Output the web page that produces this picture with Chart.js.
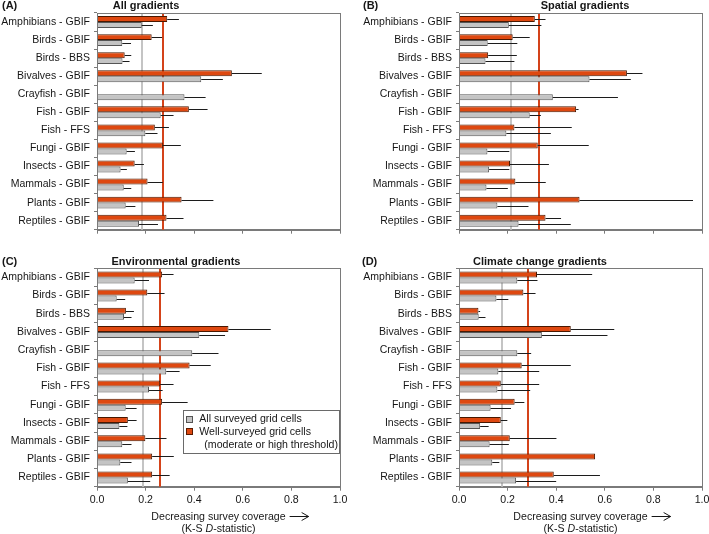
<!DOCTYPE html>
<html><head><meta charset="utf-8">
<script src="https://cdn.jsdelivr.net/npm/chart.js@4.4.0/dist/chart.umd.min.js"></script>
<style>
html,body{margin:0;padding:0;background:#fff;}
#wrap{position:relative;width:709px;height:534px;overflow:hidden;background:#fff;}
canvas{position:absolute;}
</style></head><body>
<div id="wrap">
<canvas id="cA" width="355" height="240" style="left:0;top:0"></canvas>
<canvas id="cB" width="364" height="240" style="left:355px;top:0"></canvas>
<canvas id="cC" width="355" height="294" style="left:0;top:240px"></canvas>
<canvas id="cD" width="364" height="294" style="left:355px;top:240px"></canvas>
</div>
<script>
const categories = ['Amphibians - GBIF','Birds - GBIF','Birds - BBS','Bivalves - GBIF','Crayfish - GBIF','Fish - GBIF','Fish - FFS','Fungi - GBIF','Insects - GBIF','Mammals - GBIF','Plants - GBIF','Reptiles - GBIF'];
const panelLetters = ['(A)','(B)','(C)','(D)'];
const panelTitles = ['All gradients','Spatial gradients','Environmental gradients','Climate change gradients'];
const seriesNames = ['Well-surveyed grid cells','All surveyed grid cells'];
const xTickValues = [0, 0.2, 0.4, 0.6, 0.8, 1.0];

// Panel A - All gradients
const wellA    = [0.289,0.225,0.114,0.555,null,0.378,0.238,0.271,0.155,0.208,0.348,0.286];
const wellErrA = [0.337,0.268,0.141,0.678,null,0.455,0.296,0.345,0.193,0.271,0.479,0.356];
const allA     = [0.184,0.104,0.105,0.429,0.360,0.262,0.199,0.122,0.097,0.110,0.118,0.173];
const allErrA  = [0.230,0.140,0.134,0.518,0.447,0.315,0.249,0.156,0.123,0.141,0.158,0.251];
// Panel B - Spatial gradients
const wellB    = [0.312,0.221,0.120,0.691,null,0.482,0.228,0.324,0.210,0.232,0.496,0.356];
const wellErrB = [0.356,0.291,0.238,0.755,null,0.492,0.464,0.534,0.370,0.357,0.963,0.420];
const allB     = [0.205,0.118,0.109,0.537,0.386,0.291,0.195,0.117,0.124,0.113,0.158,0.245];
const allErrB  = [0.339,0.240,0.228,0.707,0.654,0.337,0.378,0.207,0.207,0.201,0.286,0.460];
// Panel C - Environmental gradients
const wellC    = [0.268,0.207,0.119,0.541,null,0.381,0.260,0.268,0.127,0.199,0.227,0.227];
const wellErrC = [0.315,0.278,0.152,0.715,null,0.468,0.315,0.373,0.163,0.286,0.316,0.299];
const allC     = [0.155,0.081,0.111,0.421,0.392,0.285,0.214,0.118,0.092,0.104,0.096,0.127];
const allErrC  = [0.214,0.116,0.142,0.527,0.500,0.340,0.270,0.163,0.125,0.142,0.142,0.219];
// Panel D - Climate change gradients
const wellD    = [0.321,0.265,0.080,0.460,null,0.258,0.172,0.229,0.172,0.209,0.560,0.390];
const wellErrD = [0.548,0.315,0.087,0.639,null,0.460,0.330,0.269,0.199,0.401,0.560,0.580];
const allD     = [0.240,0.154,0.081,0.341,0.240,0.162,0.158,0.130,0.087,0.126,0.137,0.235];
const allErrD  = [0.323,0.203,0.109,0.611,0.297,0.330,0.293,0.214,0.122,0.205,0.166,0.400];
// Reference (mean) lines per panel
const refAll  = [0.186,0.214,0.188,0.176];
const refWell = [0.270,0.330,0.260,0.286];

const FONT = 'Liberation Sans, Arial, Helvetica, sans-serif';
const ORANGE = '#de4810', GREY = '#c4c4c4', TXT = '#161616', FRAME = '#7a7a7a';

function fontStr(size, weight, style) { return (style||'') + ' ' + (weight||'') + ' ' + size + 'px ' + FONT; }

function makePanel(id, idx, well, wellErr, all, allErr, geo) {
  const deco = {
    id: 'deco' + id,
    beforeDatasetsDraw(chart) {
      const {ctx, chartArea: a, scales: {x}} = chart;
      ctx.save();
      [[refAll[idx], '#c4c4c4'], [refWell[idx], '#d4431a']].forEach(([v, c]) => {
        const px = Math.round(x.getPixelForValue(v));
        ctx.strokeStyle = c; ctx.lineWidth = 2;
        ctx.beginPath(); ctx.moveTo(px, a.top); ctx.lineTo(px, a.bottom); ctx.stroke();
      });
      ctx.restore();
    },
    afterDatasetsDraw(chart) {
      const {ctx, scales: {x}} = chart;
      ctx.save(); ctx.strokeStyle = '#1c1c1c'; ctx.lineWidth = 1;
      [wellErr, allErr].forEach((errArr, di) => {
        const meta = chart.getDatasetMeta(di);
        const vals = chart.data.datasets[di].data;
        meta.data.forEach((el, j) => {
          if (vals[j] == null || errArr[j] == null) return;
          const x1 = x.getPixelForValue(errArr[j]);
          const y = Math.round(el.y) + 0.5;
          ctx.beginPath(); ctx.moveTo(el.x, y); ctx.lineTo(x1, y); ctx.stroke();
        });
      });
      ctx.restore();
    },
    afterDraw(chart) {
      const {ctx, chartArea: a} = chart;
      ctx.save();
      ctx.strokeStyle = FRAME; ctx.lineWidth = 1;
      ctx.strokeRect(Math.round(a.left) + 0.5, Math.round(a.top) + 0.5, Math.round(a.right) - Math.round(a.left), Math.round(a.bottom) - Math.round(a.top));
      ctx.fillStyle = TXT; ctx.textBaseline = 'alphabetic';
      ctx.font = fontStr(11, 'bold');
      ctx.textAlign = 'left';
      ctx.fillText(panelLetters[idx], geo.letterX, geo.titleY);
      ctx.textAlign = 'center';
      ctx.fillText(panelTitles[idx], geo.titleX, geo.titleY);
      if (geo.xTitle) {
        const cx = (a.left + a.right) / 2;
        const y1 = a.bottom + 33.5, y2 = a.bottom + 44.8;
        ctx.font = fontStr(10.6);
        ctx.textAlign = 'center';
        const t1 = 'Decreasing survey coverage';
        ctx.fillText(t1, cx, y1);
        const w1 = ctx.measureText(t1).width;
        const ax0 = cx + w1 / 2 + 4, ax1 = ax0 + 19, ay = Math.round(y1 - 3.8) + 0.5;
        ctx.strokeStyle = TXT; ctx.lineWidth = 1;
        ctx.beginPath(); ctx.moveTo(ax0, ay); ctx.lineTo(ax1, ay);
        ctx.moveTo(ax1 - 7, ay - 4); ctx.lineTo(ax1, ay); ctx.lineTo(ax1 - 7, ay + 4); ctx.stroke();
        const p1 = '(K-S ', p2 = 'D', p3 = '-statistic)';
        ctx.font = fontStr(10.6); const w_1 = ctx.measureText(p1).width, w_3 = ctx.measureText(p3).width;
        ctx.font = fontStr(10.6, '', 'italic'); const w_2 = ctx.measureText(p2).width;
        let sx = cx - (w_1 + w_2 + w_3) / 2;
        ctx.textAlign = 'left';
        ctx.font = fontStr(10.6); ctx.fillText(p1, sx, y2); sx += w_1;
        ctx.font = fontStr(10.6, '', 'italic'); ctx.fillText(p2, sx, y2); sx += w_2;
        ctx.font = fontStr(10.6); ctx.fillText(p3, sx, y2);
      }
      if (geo.legend) {
        const bx = a.left + 85.7, by = a.top + 141.7, bw = a.right - bx, bh = 43;
        ctx.fillStyle = '#fff';
        ctx.fillRect(bx, by, bw, bh);
        ctx.strokeStyle = '#6a6a6a'; ctx.lineWidth = 1;
        ctx.strokeRect(Math.round(bx) + 0.5, Math.round(by) + 0.5, Math.round(bw) - 1, Math.round(bh));
        const sq = [[GREY, '#555', by + 5.5], [ORANGE, '#5a1a00', by + 18]];
        sq.forEach(([f, s, yy]) => {
          ctx.fillStyle = f; ctx.fillRect(Math.round(bx + 3) + 0.5, Math.round(yy) + 0.5, 6, 6);
          ctx.strokeStyle = s; ctx.strokeRect(Math.round(bx + 3) + 0.5, Math.round(yy) + 0.5, 6, 6);
        });
        ctx.fillStyle = TXT; ctx.font = fontStr(10.6); ctx.textAlign = 'left'; ctx.textBaseline = 'middle';
        ctx.fillText(seriesNames[1], bx + 16.6, by + 9.5);
        ctx.fillText(seriesNames[0], bx + 16.6, by + 22);
        ctx.fillText('(moderate or high threshold)', bx + 21.6, by + 35.5);
      }
      ctx.restore();
    }
  };

  return new Chart(document.getElementById(id), {
    type: 'bar',
    data: {
      labels: categories,
      datasets: [
        { label: seriesNames[0], data: well, backgroundColor: ORANGE, borderColor: '#4a1800', borderWidth: 1 },
        { label: seriesNames[1], data: all, backgroundColor: GREY, borderColor: '#555555', borderWidth: 1 }
      ]
    },
    options: {
      indexAxis: 'y',
      responsive: false,
      animation: false,
      devicePixelRatio: 1,
      datasets: { bar: { categoryPercentage: 0.66, barPercentage: 1.0 } },
      layout: { padding: { left: 0, top: geo.T, right: geo.w - geo.R, bottom: 0 } },
      plugins: { legend: { display: false }, tooltip: { enabled: false }, title: { display: false } },
      scales: {
        y: {
          type: 'category',
          afterFit(s) { s.width = geo.L; },
          grid: { drawOnChartArea: false, drawTicks: true, tickLength: 3, color: FRAME, offset: true },
          border: { display: true, color: FRAME },
          ticks: { color: TXT, font: { family: FONT, size: 10.5 }, padding: 4, autoSkip: false }
        },
        x: {
          type: 'linear', min: 0, max: 1,
          afterFit(s) { s.height = geo.h - geo.B; },
          afterBuildTicks(s) { s.ticks = xTickValues.map(v => ({ value: v })); },
          grid: { drawOnChartArea: false, drawTicks: true, tickLength: 4, color: FRAME },
          border: { display: true, color: FRAME },
          ticks: { display: geo.xLabels, color: TXT, font: { family: FONT, size: 10.6 }, padding: 3, maxRotation: 0,
                   callback: v => Number(v).toFixed(1) }
        }
      }
    },
    plugins: [deco]
  });
}

makePanel('cA', 0, wellA, wellErrA, allA, allErrA, { w: 355, h: 240, L: 97, R: 340, T: 13, B: 231, letterX: 2, titleX: 146, titleY: 8.5, xLabels: false });
makePanel('cB', 1, wellB, wellErrB, allB, allErrB, { w: 364, h: 240, L: 104, R: 347, T: 13, B: 231, letterX: 8, titleX: 230, titleY: 8.5, xLabels: false });
makePanel('cC', 2, wellC, wellErrC, allC, allErrC, { w: 355, h: 294, L: 97, R: 340, T: 28.3, B: 246.7, letterX: 2, titleX: 176, titleY: 24.5, xLabels: true, xTitle: true, legend: true });
makePanel('cD', 3, wellD, wellErrD, allD, allErrD, { w: 364, h: 294, L: 104, R: 347, T: 28.3, B: 246.7, letterX: 7, titleX: 185, titleY: 24.5, xLabels: true, xTitle: true });
</script>
</body></html>
